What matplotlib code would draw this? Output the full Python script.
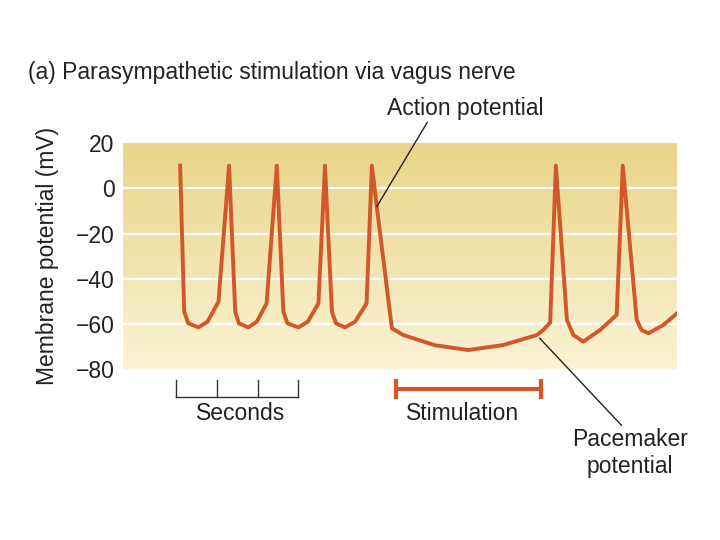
import numpy as np
import matplotlib
matplotlib.use('Agg')
import matplotlib.pyplot as plt

plt.rcParams['font.family'] = ['Liberation Sans', 'DejaVu Sans']

# membrane potential trace (time in seconds, potential in mV)
t = [1.40, 1.50, 1.60, 1.85, 2.07, 2.34,
     2.60, 2.75, 2.84, 3.07, 3.28, 3.52,
     3.77, 3.93, 4.03, 4.30, 4.53, 4.79,
     4.95, 5.12, 5.22, 5.44, 5.69, 5.97,
     6.10, 6.22, 6.59, 6.87, 7.65, 8.46, 9.32, 10.14, 10.30, 10.47,
     10.61, 10.88, 11.04, 11.28, 11.69, 12.10,
     12.25, 12.59, 12.71, 12.88, 13.24, 13.60]
mv = [10, -54.5, -59.6, -61.4, -58.9, -50.1,
      10, -54.5, -59.6, -61.4, -58.9, -50.8,
      10, -54.5, -59.6, -61.4, -58.9, -50.8,
      10, -54.5, -59.6, -61.4, -58.9, -50.8,
      10, -8.1, -61.8, -64.8, -69.3, -71.4, -69.2, -64.8, -62.6, -59.3,
      10, -58.1, -64.8, -67.7, -62.6, -55.9,
      10, -58, -62.6, -64, -60.4, -54.9]

yticks = [20, 0, -20, -40, -60, -80]
ytick_labels = ['20', '0', '\u221220', '\u221240', '\u221260', '\u221280']
seconds_ticks = [1.30, 2.30, 3.30, 4.30]
stim_start, stim_end = 6.68, 10.25

trace_color = '#D2572B'
text_color = '#222222'

fig = plt.figure(figsize=(7.2, 5.4), dpi=100)
ax = fig.add_axes([123 / 720, 1 - 369.5 / 540, 554 / 720, 226.5 / 540])
xmax = 554 / 40.8
ax.set_xlim(0, xmax)
ax.set_ylim(-80, 20)

# yellow gradient background
grad = np.linspace(0, 1, 256).reshape(-1, 1)
top = np.array([233, 212, 135]) / 255
bottom = np.array([251, 243, 212]) / 255
img = top * (1 - grad[..., None]) + bottom * grad[..., None]
ax.imshow(img, extent=[0, xmax, -80, 20], aspect='auto', zorder=0)

for y in [0, -20, -40, -60]:
    ax.axhline(y, color='white', lw=1.6, zorder=1)

ax.plot(t, mv, color=trace_color, lw=2.8, solid_joinstyle='round', zorder=3)

for s in ax.spines.values():
    s.set_visible(False)
ax.set_xticks([])
ax.set_yticks(yticks)
ax.set_yticklabels(ytick_labels, fontsize=16.5, color=text_color)
ax.tick_params(axis='y', length=0, pad=6)
ax.set_ylabel('Membrane potential (mV)', fontsize=16.5, color=text_color, labelpad=12)

# seconds scale bar
ax.plot([seconds_ticks[0], seconds_ticks[-1]], [-92, -92], color='#333333', lw=1, clip_on=False)
for s in seconds_ticks:
    ax.plot([s, s], [-84.7, -92], color='#333333', lw=1, clip_on=False)
ax.text(2.88, -99.5, 'Seconds', fontsize=16.5, ha='center', va='center', color=text_color)

# stimulation bar
ax.plot([stim_start, stim_end], [-88.6, -88.6], color=trace_color, lw=3, clip_on=False)
for s in [stim_start, stim_end]:
    ax.plot([s, s], [-85, -92.2], color=trace_color, lw=3, clip_on=False)
ax.text(8.31, -99.5, 'Stimulation', fontsize=16.5, ha='center', va='center', color=text_color)

# annotations
ax.annotate('Action potential', xy=(6.22, -8.1), xytext=(465 / 720, 1 - 108 / 540),
            textcoords='figure fraction', fontsize=16.5, ha='center', va='center',
            color=text_color, annotation_clip=False,
            arrowprops=dict(arrowstyle='-', color=text_color, lw=1,
                            shrinkA=0, shrinkB=0, relpos=(0.27, 0)))
ax.annotate('Pacemaker\npotential', xy=(10.14, -64.8), xytext=(630 / 720, 1 - 453 / 540),
            textcoords='figure fraction', fontsize=16.5, ha='center', va='center',
            color=text_color, annotation_clip=False, linespacing=1.2,
            arrowprops=dict(arrowstyle='-', color=text_color, lw=1,
                            shrinkA=0, shrinkB=3, relpos=(0.45, 1)))

fig.text(28 / 720, 1 - 72 / 540, '(a) Parasympathetic stimulation via vagus nerve',
         fontsize=16.5, ha='left', va='center', color=text_color)

fig.savefig('out.png', dpi=100)
